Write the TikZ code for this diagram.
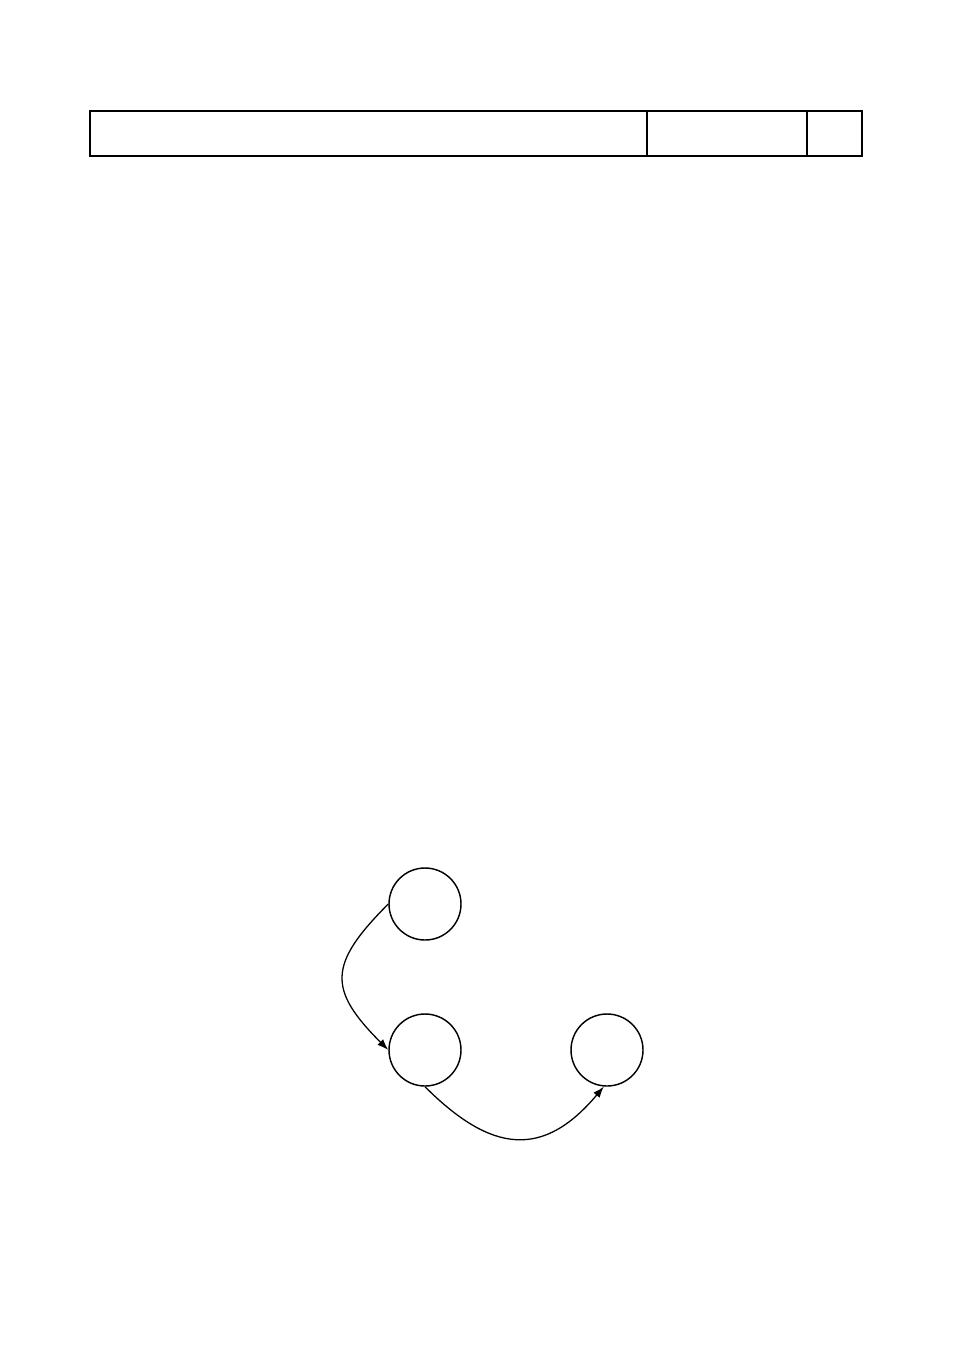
\documentclass[tikz,border=0pt]{standalone}
\usetikzlibrary{arrows.meta}
\begin{document}
\begin{tikzpicture}[x=0.6237pt,y=-0.6237pt,
  state/.style={circle,draw,line width=0.9pt,minimum size=72*0.6237pt,inner sep=0pt},
  conn/.style={line width=0.8pt,-{Latex[length=7pt,width=5pt]}}]
\useasboundingbox (0,0) rectangle (954,1350);
\node[draw,line width=1.8pt,minimum width=772*0.6237pt,minimum height=45*0.6237pt,inner sep=0pt] (hdr) at (476,133.5) {};
\coordinate (d1t) at (647,111); \coordinate (d1b) at (647,156);
\coordinate (d2t) at (807,111); \coordinate (d2b) at (807,156);
\draw[line width=1.2pt] (d1t) -- (d1b);
\draw[line width=0.7pt] (d2t) -- (d2b);
\node[state] (a) at (425,904) {};
\node[state] (b) at (425,1050) {};
\node[state] (c) at (607,1050) {};
\draw[conn] (a.west) to[out=-135,in=135,looseness=1.5] (b.west);
\draw[conn] (b.south) to[out=-45,in=-130,looseness=1.35] (c.-95);
\end{tikzpicture}
\end{document}
